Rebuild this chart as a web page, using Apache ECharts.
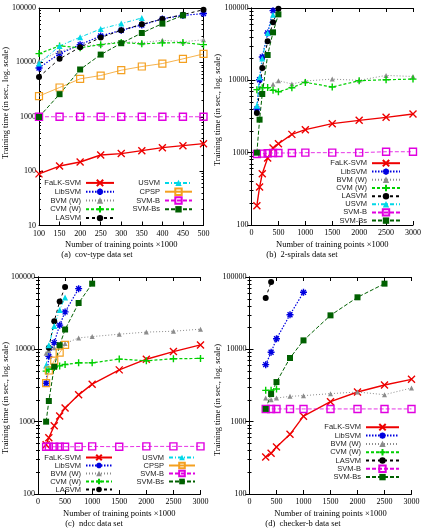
<!DOCTYPE html>
<html><head><meta charset="utf-8">
<script src="https://cdn.jsdelivr.net/npm/echarts@6/dist/echarts.min.js"></script>
<style>html,body{margin:0;padding:0;background:#fff}#c{width:425px;height:529px}</style>
</head><body><div id="c"></div>
<script>
// ---------- DATA ----------
// (a) cov-type
const covX      = [100,150,200,250,300,350,400,450,500];
const covFalk   = [89,124,147,198,210,238,270,294,320];
const covLib    = [7900,14500,21200,30600,38900,48800,63000,73000,79000];
const covBvm    = [10500,16000,19500,21500,24000,23000,25500,24000,26000];
const covCvm    = [14500,20100,18500,21200,23100,21900,22800,23100,21200];
const covLasvm  = [5400,11600,19000,28600,38900,50100,62800,75500,93000];
const covUsvm   = [9500,20100,29000,41200,51600,65600,null,null,null];
const covCpsp   = [2400,3450,4980,5730,7180,8390,9520,11600,14300];
const covSvmb   = [1000,1000,1000,1000,1000,1000,1000,1000,1000];
const covSvmbs  = [990,2600,7400,13900,22500,34700,51600,73300,null];

// (b) 2-spirals
const spX      = [100,150,200,300,400,500,750,1000,1500,2000,2500,3000];
const spFalk   = [185,335,513,844,1160,1330,1790,2080,2520,2800,3080,3430];
const spLib    = [4020,10200,21000,45100,91900,null,null,null,null,null,null,null];
const spBvm    = [null,null,null,null,8800,9900,8900,9800,10400,10000,11700,11300];
const spCvm    = [7430,null,7900,7930,7280,6960,7900,9370,8090,9880,10200,10400];
const spLasvm  = [3530,null,14800,34600,63400,97900,null,null,null,null,null,null];
const spUsvm   = [4470,11000,20000,45000,80900,null,null,null,null,null,null,null];
const spSvmb   = [960,null,970,980,990,990,990,1000,1000,1000,1030,1030];
const spSvmbs  = [1000,2860,6470,22400,46100,81700,null,null,null,null,null,null];

// (c) ndcc
const ndX      = [150,200,300,400,500,750,1000,1500,2000,2500,3000];
const ndFalk   = [480,600,880,1200,1550,2350,3300,5200,7300,9300,11500];
const ndLib    = [3400,8000,12400,21600,32900,69000,null,null,null,null,null];
const ndBvm    = [8800,9600,10500,11200,12000,14400,15000,16200,17300,17800,19000];
const ndCvm    = [5000,5300,5620,5900,6170,6510,6510,7330,6950,7410,7490];
const ndLasvm  = [null,10500,24500,46000,73000,null,null,null,null,null,null];
const ndUsvm   = [6000,11400,21100,35000,51900,null,null,null,null,null,null];
const ndCpsp   = [3400,5100,7000,9000,11500,null,null,null,null,null,null];
const ndSvmb   = [450,450,450,450,450,450,455,450,455,455,455];
const ndSvmbs  = [1000,1930,5740,11400,18800,43700,80900,null,null,null,null];

// (d) checker-b
const chX      = [300,400,500,750,1000,1500,2000,2500,3000];
const chFalk   = [325,365,447,668,1190,1890,2570,3210,3850];
const chLib    = [6140,9100,14000,30100,61400,null,null,null,null];
const chBvm    = [2120,2010,2120,2240,2290,2440,2570,2360,2920];
const chCvm    = [2710,2710,2830,null,null,null,null,null,null];
const chLasvm  = [51300,85300,null,null,null,null,null,null,null];
const chSvmb   = [1500,1500,1500,1500,1500,1500,1500,1500,1500];
const chSvmbs  = [1500,2410,3530,7590,13300,29500,52400,80900,null];

const captions = ['(a)  cov-type data set','(b)  2-spirals data set','(c)  ndcc data set','(d)  checker-b data set'];
const xName = 'Number of training points \u00d71000';
const yName = 'Training time (in sec., log. scale)';

// ---------- STYLES ----------
const P_X = 'path://M0,0L10,10M10,0L0,10';
const P_PLUS = 'path://M5,0L5,10M0,5L10,5';
const P_AST = 'path://M5,0L5,10M0,5L10,5M1.5,1.5L8.5,8.5M8.5,1.5L1.5,8.5';
const P_SQ = 'path://M0,0L10,0L10,10L0,10Z';
const sty = {
  'FaLK-SVM': {c:'#ee0000', t:'solid', w:1.4, s:P_X, z:7, stroke:1.4},
  'LibSVM':   {c:'#0000e0', t:[1.5,1.5], w:1.2, s:P_AST, z:7, stroke:1.4},
  'BVM (W)':  {c:'#8c8c8c', t:[1,2], w:1, s:'triangle', z:5},
  'CVM (W)':  {c:'#00d000', t:[3,2], w:1.2, s:P_PLUS, z:7, stroke:1.4},
  'LASVM':    {c:'#000000', t:[3,3], w:1, s:'circle', z:6},
  'USVM':     {c:'#00d8e8', t:[4,2,1,2], w:1, s:'triangle', z:6},
  'CPSP':     {c:'#f4a020', t:'solid', w:0.8, s:P_SQ, z:7, stroke:1.2, hollow:true},
  'SVM-B':    {c:'#e000e0', t:[4,2], w:0.8, s:P_SQ, z:7, stroke:1.4, hollow:true},
  'SVM-Bs':   {c:'#006000', t:[4,2], w:1, s:'rect', z:6}
};

function pairs(xs, ys){ const out=[]; xs.forEach((x,i)=>{ if(ys[i]!=null) out.push([x,ys[i]]); }); return out; }
function mk(name, xs, ys, gi){
  const st = sty[name];
  return {
    type:'line', name, xAxisIndex:gi*2, yAxisIndex:gi*2, data:pairs(xs,ys),
    symbol:st.s, symbolSize:st.z, connectNulls:true,
    lineStyle:{color:st.c, width:st.w, type:st.t},
    itemStyle:{color: st.hollow ? 'rgba(0,0,0,0)' : st.c, borderColor:st.c, borderWidth: st.stroke || 0},
    emphasis:{disabled:true}, animation:false
  };
}

const series = [
  mk('FaLK-SVM',covX,covFalk,0), mk('LibSVM',covX,covLib,0), mk('BVM (W)',covX,covBvm,0), mk('CVM (W)',covX,covCvm,0),
  mk('LASVM',covX,covLasvm,0), mk('USVM',covX,covUsvm,0), mk('CPSP',covX,covCpsp,0), mk('SVM-B',covX,covSvmb,0), mk('SVM-Bs',covX,covSvmbs,0),
  mk('FaLK-SVM',spX,spFalk,1), mk('LibSVM',spX,spLib,1), mk('BVM (W)',spX,spBvm,1), mk('CVM (W)',spX,spCvm,1),
  mk('LASVM',spX,spLasvm,1), mk('USVM',spX,spUsvm,1), mk('SVM-B',spX,spSvmb,1), mk('SVM-Bs',spX,spSvmbs,1),
  mk('FaLK-SVM',ndX,ndFalk,2), mk('LibSVM',ndX,ndLib,2), mk('BVM (W)',ndX,ndBvm,2), mk('CVM (W)',ndX,ndCvm,2),
  mk('LASVM',ndX,ndLasvm,2), mk('USVM',ndX,ndUsvm,2), mk('CPSP',ndX,ndCpsp,2), mk('SVM-B',ndX,ndSvmb,2), mk('SVM-Bs',ndX,ndSvmbs,2),
  mk('FaLK-SVM',chX,chFalk,3), mk('LibSVM',chX,chLib,3), mk('BVM (W)',chX,chBvm,3), mk('CVM (W)',chX,chCvm,3),
  mk('LASVM',chX,chLasvm,3), mk('SVM-B',chX,chSvmb,3), mk('SVM-Bs',chX,chSvmbs,3)
];

// ---------- LAYOUT ----------
const grids = [
  {left:39, right:221.5, top:8, bottom:303.5},
  {left:251.5, right:12, top:8, bottom:304},
  {left:38, right:224.5, top:277, bottom:35},
  {left:249.5, right:13.5, top:277, bottom:35}
];
const xr = [{min:100,max:500,interval:50},{min:0,max:3000,interval:500},{min:0,max:3000,interval:500},{min:0,max:3000,interval:500}];
const yr = [{min:10,max:100000},{min:100,max:100000},{min:100,max:100000},{min:100,max:100000}];

const serif = 'Liberation Serif';
const lineC = {lineStyle:{color:'#000',width:1}};
const xAxis=[], yAxis=[];
grids.forEach((g,i)=>{
  xAxis.push({type:'value', gridIndex:i, position:'bottom', min:xr[i].min, max:xr[i].max, interval:xr[i].interval,
    axisLine:lineC, axisTick:{inside:true,length:4,lineStyle:{color:'#000'}}, splitLine:{show:false},
    axisLabel:{fontFamily:serif,fontSize:8,color:'#000',margin:4,formatter:v=>String(v)},
    name:xName, nameLocation:'middle', nameGap:15, nameTextStyle:{fontFamily:serif,fontSize:8.5,color:'#000'}});
  xAxis.push({type:'value', gridIndex:i, position:'top', min:xr[i].min, max:xr[i].max, interval:xr[i].interval,
    axisLine:lineC, axisTick:{inside:true,length:4,lineStyle:{color:'#000'}}, splitLine:{show:false}, axisLabel:{show:false}});
  yAxis.push({type:'log', logBase:10, gridIndex:i, position:'left', min:yr[i].min, max:yr[i].max,
    axisLine:lineC, axisTick:{inside:true,length:4,lineStyle:{color:'#000'}},
    minorTick:{show:true,splitNumber:9,length:2,lineStyle:{color:'#000'}}, splitLine:{show:false},
    axisLabel:{fontFamily:serif,fontSize:8,color:'#000',margin:3,formatter:v=>String(Math.round(v))}});
  yAxis.push({type:'log', logBase:10, gridIndex:i, position:'right', min:yr[i].min, max:yr[i].max,
    axisLine:lineC, axisTick:{inside:true,length:4,lineStyle:{color:'#000'}},
    minorTick:{show:true,splitNumber:9,length:2,lineStyle:{color:'#000'}}, splitLine:{show:false}, axisLabel:{show:false}});
});

function leg(data, right, top, ih, lh, iw){
  return {data, orient:'vertical', align:'right', right, top, itemHeight:ih, itemWidth:iw, itemGap:0, padding:0,
    textStyle:{fontFamily:'Liberation Sans', fontSize:7.5, color:'#222', lineHeight:lh}, selectedMode:false};
}
const legend = [
  leg(['FaLK-SVM','LibSVM','BVM (W)','CVM (W)','LASVM'], 310, 178.5, 8, 8.8, 28),
  leg(['USVM','CPSP','SVM-B','SVM-Bs'], 232, 178.5, 8, 8.8, 27),
  leg(['FaLK-SVM','LibSVM','BVM (W)','CVM (W)','LASVM','USVM','SVM-B','SVM-Bs'], 24, 159, 8, 8, 28),
  leg(['FaLK-SVM','LibSVM','BVM (W)','CVM (W)','LASVM'], 312, 453.5, 7, 7.5, 26),
  leg(['USVM','CPSP','SVM-B','SVM-Bs'], 229, 453.5, 7, 7.5, 26),
  leg(['FaLK-SVM','LibSVM','BVM (W)','CVM (W)','LASVM','SVM-B','SVM-Bs'], 25, 423, 8, 8.2, 33)
];

const capPos = [[97,255],[302,255],[94,524],[303,524]];
const yNamePos = [[6,103],[218,110],[6,398],[218,400]];
const graphic = captions.map((t,i)=>({type:'text', x:capPos[i][0], y:capPos[i][1],
  style:{text:t, fontFamily:serif, fontSize:8.5, fill:'#000', align:'center', verticalAlign:'middle'}}))
  .concat(yNamePos.map(p=>({type:'text', x:p[0], y:p[1], rotation:Math.PI/2,
  style:{text:yName, fontFamily:serif, fontSize:8.5, fill:'#000', align:'center', verticalAlign:'middle'}})));

const chart = echarts.init(document.getElementById('c'), null, {renderer:'canvas'});
chart.setOption({animation:false, backgroundColor:'#fff', grid:grids, xAxis, yAxis, legend, series, graphic});
</script></body></html>
